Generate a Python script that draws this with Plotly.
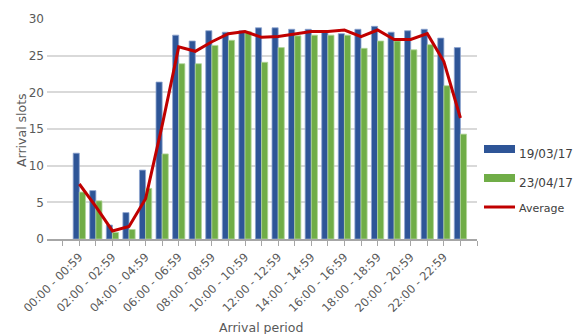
import plotly.graph_objects as go

# Hourly arrival periods
periods = [f"{h:02d}:00 - {h:02d}:59" for h in range(24)]

# Arrival slots per hour for each day, plus the overall average
slots_19_03 = [11.7, 6.6, 1.9, 3.6, 9.4, 21.4, 27.8, 27.0, 28.4, 28.2, 28.4, 28.8,
               28.8, 28.6, 28.6, 28.2, 28.0, 28.6, 29.0, 28.2, 28.4, 28.6, 27.4, 26.1]
slots_23_04 = [6.4, 5.2, 0.9, 1.3, 6.9, 11.6, 23.9, 23.9, 26.4, 27.1, 28.3, 24.1,
               26.1, 27.7, 27.8, 27.8, 27.8, 26.0, 27.0, 27.0, 25.8, 26.5, 20.9, 14.3]
slots_avg = [7.5, 4.4, 1.1, 1.7, 5.5, 15.5, 26.2, 25.6, 26.9, 28.0, 28.3, 27.5,
             27.6, 27.9, 28.3, 28.3, 28.5, 27.6, 28.5, 27.2, 27.2, 28.0, 24.2, 16.5]

BLUE = "#2E5597"
GREEN = "#70AD47"
RED = "#C00000"
TEXT = "#595959"
FONT = "DejaVu Sans"

W, H = 577, 334
ML, MR, MT, MB = 47, 100, 19, 95
PW, PH = W - ML - MR, H - MT - MB


def px(x):
    """Page pixel column -> paper x."""
    return (x - ML) / PW


def py(y):
    """Page pixel row -> paper y."""
    return (H - MB - y) / PH


x_idx = list(range(len(periods)))

fig = go.Figure()

fig.add_trace(go.Bar(
    x=x_idx, y=slots_19_03, name="19/03/17",
    marker=dict(color=BLUE, line=dict(color="#8EA5CF", width=0.8)),
))
fig.add_trace(go.Bar(
    x=x_idx, y=slots_23_04, name="23/04/17",
    marker=dict(color=GREEN, line=dict(color="#B3D69B", width=0.8)),
))
fig.add_trace(go.Scatter(
    x=x_idx, y=slots_avg, mode="lines", name="Average",
    line=dict(color=RED, width=3),
))

# Legend on the right: wide swatches with labels beside them
legend_rows = [
    ("19/03/17", BLUE, "rect", 149, 154, 12),
    ("23/04/17", GREEN, "rect", 178, 183, 12),
    ("Average", RED, "line", 207, 208, 11),
]
for label, color, kind, ys, yt, size in legend_rows:
    if kind == "rect":
        fig.add_shape(type="rect", xref="paper", yref="paper",
                      x0=px(484), x1=px(515), y0=py(ys + 4), y1=py(ys - 4),
                      fillcolor=color, line=dict(width=0))
    else:
        fig.add_shape(type="line", xref="paper", yref="paper",
                      x0=px(484), x1=px(515), y0=py(ys), y1=py(ys),
                      line=dict(color=color, width=3))
    fig.add_annotation(text=label, xref="paper", yref="paper",
                       x=px(517), y=py(yt), xanchor="left", yanchor="middle",
                       showarrow=False, font=dict(size=size, color="#404040"))

# Axis titles
fig.add_annotation(text="Arrival period", xref="paper", yref="paper",
                   x=px(261), y=py(327), xanchor="center", yanchor="middle",
                   showarrow=False, font=dict(size=12.5, color=TEXT))
fig.add_annotation(text="Arrival slots", xref="paper", yref="paper",
                   x=px(21), y=py(130), xanchor="center", yanchor="middle",
                   textangle=-90, showarrow=False, font=dict(size=12.5, color=TEXT))

fig.update_layout(
    width=W, height=H,
    margin=dict(l=ML, r=MR, t=MT, b=MB, autoexpand=False),
    paper_bgcolor="white", plot_bgcolor="white",
    font=dict(family=FONT, size=12, color=TEXT),
    barmode="group", bargap=0.26, bargroupgap=0,
    showlegend=False,
)

fig.update_xaxes(
    automargin=False,
    range=[-1.95, 24.0],
    tickvals=x_idx[::2], ticktext=periods[::2], tickangle=-45,
    tickfont=dict(size=11.5, color=TEXT),
    ticks="outside", ticklen=5, tickcolor="#A6A6A6",
    minor=dict(ticks="outside", dtick=1, tick0=0, ticklen=5, tickcolor="#A6A6A6"),
    showline=True, linecolor="#A6A6A6", linewidth=1.5,
    showgrid=False, zeroline=False,
)
fig.update_yaxes(
    automargin=False,
    range=[0, 30], dtick=5,
    showgrid=True, gridcolor="#D9D9D9", gridwidth=1.5,
    zeroline=False, showline=False,
    tickfont=dict(size=12, color=TEXT), ticklabelstandoff=2,
)

fig.write_html("out.html")
